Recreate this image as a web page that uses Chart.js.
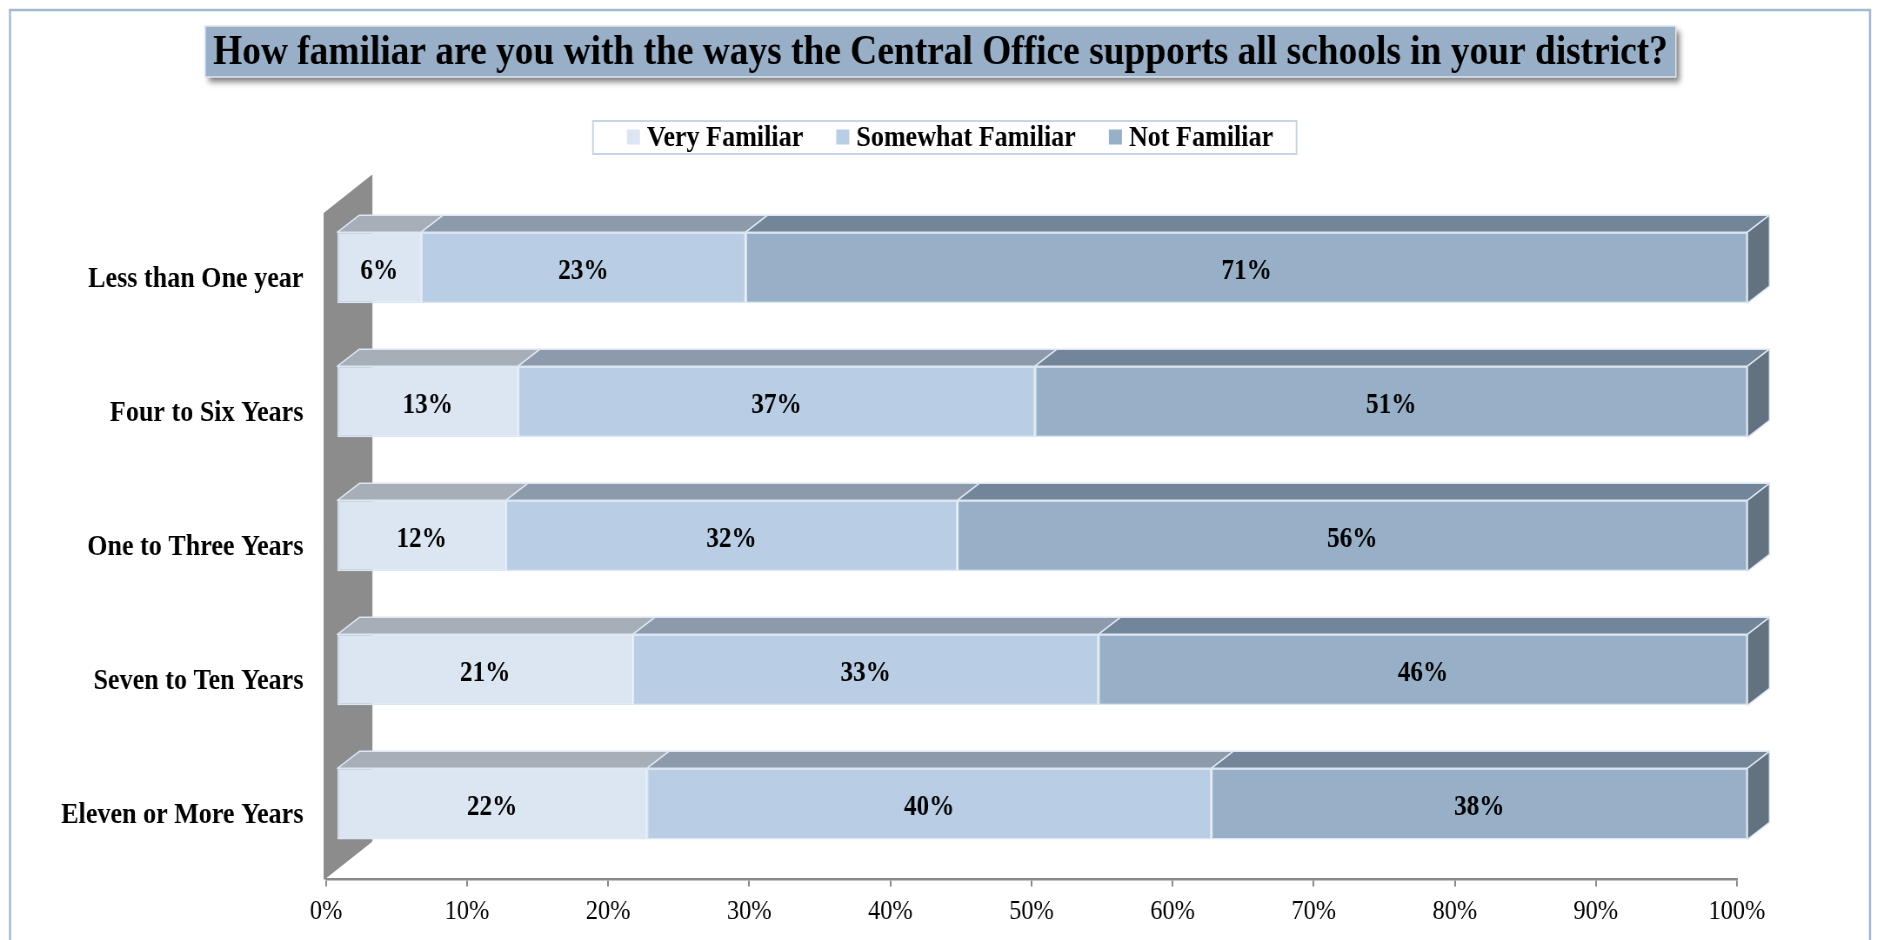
<!DOCTYPE html>
<html>
<head>
<meta charset="utf-8">
<title>Central Office familiarity</title>
<script src="https://cdn.jsdelivr.net/npm/chart.js@4.4.1/dist/chart.umd.min.js"></script>
<style>
  html, body { margin: 0; padding: 0; overflow: hidden; background: #fff; }
  /* canvas is drawn wide and squeezed so the serif text comes out narrow */
  #wrap { width: 2158px; height: 940px; transform: scaleX(0.86978); transform-origin: 0 0; }
</style>
</head>
<body>
<div id="wrap"><canvas id="familiarChart" width="2158" height="940"></canvas></div>
<script>
const categories = ['Less than One year', 'Four to Six Years', 'One to Three Years', 'Seven to Ten Years', 'Eleven or More Years'];
const veryFamiliar = [6, 13, 12, 21, 22];
const somewhatFamiliar = [23, 37, 32, 33, 40];
const notFamiliar = [71, 51, 56, 46, 38];
const xTicks = [0, 10, 20, 30, 40, 50, 60, 70, 80, 90, 100];
const seriesLabels = ['Very Familiar', 'Somewhat Familiar', 'Not Familiar'];

const titleText = 'How familiar are you with the ways the Central Office supports all schools in your district?';

const SQUEEZE = 0.86978;
const depth = { x: 22 / SQUEEZE, y: 17 };      // bar depth
const shift = { x: 10.5 / SQUEEZE, y: -8.5 };  // bars sit a little behind the floor edge
const wallDepth = { x: 48 / SQUEEZE, y: 38 };

// 100% stacked: each row is spread over its own total
const rowTotals = categories.map((c, i) => veryFamiliar[i] + somewhatFamiliar[i] + notFamiliar[i]);
const share = arr => arr.map((v, i) => v / rowTotals[i] * 100);

const faces = [
  { front: '#DCE6F2', top: '#A6AFB8', side: '#8C97A3' },
  { front: '#B9CDE5', top: '#8D9AAB', side: '#738091' },
  { front: '#98AFC8', top: '#738598', side: '#637280' }
];
const edge = '#DCE6F2';

Chart.defaults.font.family = '"Liberation Serif", "Times New Roman", serif';
Chart.defaults.color = '#000';

function poly(ctx, pts) {
  ctx.beginPath();
  ctx.moveTo(pts[0][0], pts[0][1]);
  for (let i = 1; i < pts.length; i++) ctx.lineTo(pts[i][0], pts[i][1]);
  ctx.closePath();
  ctx.fill();
  ctx.stroke();
}

// title banner, legend and outer frame
const frames = {
  id: 'frames',
  beforeDraw(chart) {
    const ctx = chart.ctx;
    ctx.save();
    ctx.strokeStyle = '#A3B8D1';
    ctx.lineWidth = 2.5;
    ctx.strokeRect(10 / SQUEEZE, 10, 1860 / SQUEEZE, 990);

    // title box with drop shadow
    ctx.font = 'bold 43px "Liberation Serif"';
    const tw = ctx.measureText(titleText).width + 16 / SQUEEZE;
    const cx = 940.5 / SQUEEZE;
    ctx.shadowColor = 'rgba(0,0,0,0.5)';
    ctx.shadowBlur = 6;
    ctx.shadowOffsetX = 4;
    ctx.shadowOffsetY = 5;
    ctx.fillStyle = '#98AFC7';
    ctx.fillRect(cx - tw / 2, 26, tw, 51);
    ctx.shadowColor = 'transparent';
    ctx.strokeStyle = '#DDE6F1';
    ctx.lineWidth = 1.5;
    ctx.strokeRect(cx - tw / 2, 26, tw, 51);
    ctx.fillStyle = '#000';
    ctx.textAlign = 'center';
    ctx.textBaseline = 'middle';
    ctx.fillText(titleText, cx, 53);

    // legend
    const items = chart.data.datasets.map(ds => ({ text: ds.label, color: ds.backgroundColor }));
    ctx.font = 'bold 30px "Liberation Serif"';
    const box = 15, toText = 8, between = 38, mid = 137;
    const widths = items.map(it => ctx.measureText(it.text).width);
    const total = widths.reduce((s, w) => s + w, 0) + items.length * (box + toText) + (items.length - 1) * between;
    let x = 950 / SQUEEZE - total / 2;
    ctx.strokeStyle = '#C6D5E7';
    ctx.lineWidth = 2;
    ctx.strokeRect(x - 39, 121, total + 39 + 27, 33);
    ctx.textAlign = 'left';
    items.forEach((it, i) => {
      ctx.fillStyle = it.color;
      ctx.fillRect(x, mid - 7.5, box, box);
      ctx.fillStyle = '#000';
      ctx.fillText(it.text, x + box + toText, mid + 1.5);
      x += box + toText + widths[i] + between;
    });
    ctx.restore();
  },
  beforeDatasetsDraw(chart) {
    const { ctx, chartArea: a } = chart;
    // left side wall
    const x0 = a.left - 2 / SQUEEZE, top = a.top + 4, bot = a.bottom;
    ctx.save();
    ctx.fillStyle = '#8C8C8C';
    ctx.strokeStyle = '#8C8C8C';
    ctx.lineWidth = 1;
    poly(ctx, [[x0, top], [x0 + wallDepth.x, top - wallDepth.y], [x0 + wallDepth.x, bot - wallDepth.y], [x0, bot]]);
    ctx.restore();
    ctx.save();
    ctx.translate(shift.x, shift.y);
  },
  afterDatasetsDraw(chart) {
    const ctx = chart.ctx;
    const lastSet = chart.data.datasets.length - 1;
    ctx.strokeStyle = edge;
    ctx.lineWidth = 1.5;
    ctx.lineJoin = 'round';
    chart.data.datasets.forEach((ds, di) => {
      chart.getDatasetMeta(di).data.forEach(bar => {
        const p = bar.getProps(['x', 'y', 'base', 'height'], true);
        const l = Math.min(p.x, p.base), r = Math.max(p.x, p.base);
        const t = p.y - p.height / 2, b = p.y + p.height / 2;
        ctx.fillStyle = faces[di].top;
        poly(ctx, [[l, t], [r, t], [r + depth.x, t - depth.y], [l + depth.x, t - depth.y]]);
        if (di === lastSet) {
          ctx.fillStyle = faces[di].side;
          poly(ctx, [[r, t], [r + depth.x, t - depth.y], [r + depth.x, b - depth.y], [r, b]]);
        }
      });
    });
    // value labels on the front faces
    ctx.fillStyle = '#000';
    ctx.font = 'bold 29px "Liberation Serif"';
    ctx.textAlign = 'center';
    ctx.textBaseline = 'middle';
    chart.data.datasets.forEach((ds, di) => {
      chart.getDatasetMeta(di).data.forEach((bar, i) => {
        const p = bar.getProps(['x', 'y', 'base'], true);
        ctx.fillText(ds.values[i] + '%', (p.x + p.base) / 2, p.y + 4);
      });
    });
    ctx.restore();
  }
};

const seriesValues = [veryFamiliar, somewhatFamiliar, notFamiliar];

const data = {
  labels: categories,
  datasets: seriesValues.map((vals, i) => ({
    label: seriesLabels[i],
    values: vals,
    data: share(vals),
    backgroundColor: faces[i].front,
    borderColor: edge,
    borderWidth: 1.5,
    borderSkipped: false,
    categoryPercentage: 0.53,
    barPercentage: 1,
    clip: false
  }))
};

const config = {
  type: 'bar',
  data,
  options: {
    indexAxis: 'y',
    responsive: false,
    animation: false,
    devicePixelRatio: 1,
    layout: { padding: { top: 209.2, left: 10, right: 161, bottom: 4 } },
    scales: {
      x: {
        stacked: true,
        min: 0,
        max: 100,
        afterBuildTicks: scale => { scale.ticks = xTicks.map(v => ({ value: v })); },
        ticks: { callback: v => v + '%', font: { size: 28 }, padding: 8, maxRotation: 0, autoSkip: false },
        grid: { drawOnChartArea: false, drawTicks: true, tickLength: 7, color: '#8A8A8A', lineWidth: 2 },
        border: { color: '#8A8A8A', width: 2.5 }
      },
      y: {
        stacked: true,
        afterFit: scale => { scale.width = 326 / SQUEEZE - 10; },
        ticks: { font: { size: 30, weight: 'bold' }, padding: 18, labelOffset: 3 },
        grid: { display: false },
        border: { display: false }
      }
    },
    plugins: {
      title: { display: false },
      legend: { display: false },
      tooltip: { enabled: false }
    }
  },
  plugins: [frames]
};

const familiarChart = new Chart(document.getElementById('familiarChart'), config);
</script>
</body>
</html>
